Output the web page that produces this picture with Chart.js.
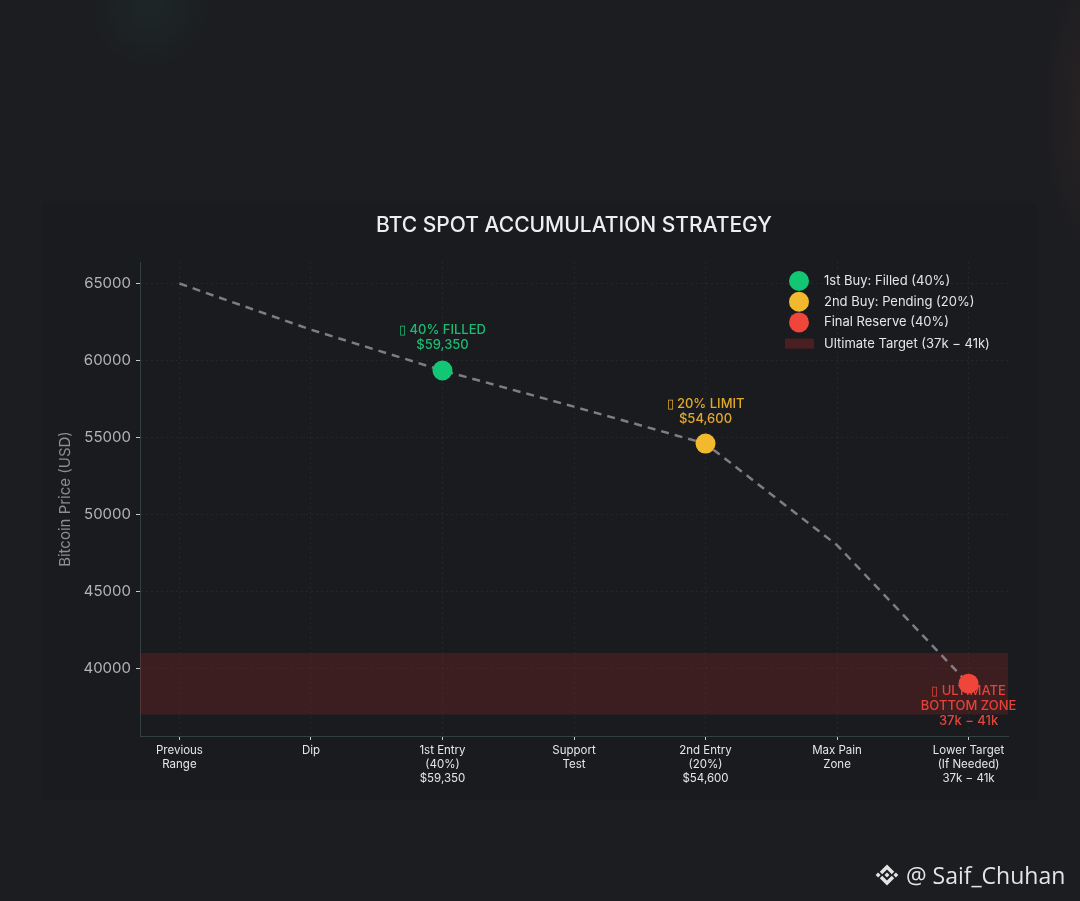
<!DOCTYPE html>
<html><head><meta charset="utf-8">
<script src="https://cdn.jsdelivr.net/npm/chart.js@4.4.1/dist/chart.umd.min.js"></script>
<style>
html,body{margin:0;padding:0;width:1080px;height:901px;overflow:hidden;background:#1c1d21;}
#bg{position:absolute;left:0;top:0;width:1080px;height:901px;
 background:radial-gradient(circle at 150px 8px, rgba(40,140,100,0.09), rgba(0,0,0,0) 60px),
            radial-gradient(ellipse 50px 150px at 1090px 110px, rgba(130,70,50,0.12), rgba(0,0,0,0) 100%);}
#panel{position:absolute;left:42px;top:203px;width:995px;height:597px;background:#1a1b1f;}
#wrap{position:absolute;left:0;top:0;width:1080px;height:901px;}
#wm{position:absolute;left:874px;top:859px;height:32px;display:flex;align-items:center;color:#e4e4e4;font:23px "Open Sans",sans-serif;white-space:nowrap;}
#wm svg{margin-right:6px;}
</style></head>
<body>
<div id="bg"></div>
<div id="panel"></div>
<div id="wrap"><canvas id="c" width="1080" height="901"></canvas></div>
<div id="wm"><svg width="26" height="26" viewBox="0 0 126 126"><g fill="#e4e4e4">
<polygon points="63,12 98,47 86,59 63,36 40,59 28,47"/>
<polygon points="63,114 98,79 86,67 63,90 40,67 28,79"/>
<polygon points="63,51 75,63 63,75 51,63"/>
<polygon points="20,51 32,63 20,75 8,63"/>
<polygon points="106,51 118,63 106,75 94,63"/>
</g></svg><span>@ Saif_Chuhan</span></div>
<script>
// ---- data ----
const chartTitle = "BTC SPOT ACCUMULATION STRATEGY";
const yAxisTitle = "Bitcoin Price (USD)";
const categories = [
  ["Previous","Range"],
  ["Dip"],
  ["1st Entry","(40%)","$59,350"],
  ["Support","Test"],
  ["2nd Entry","(20%)","$54,600"],
  ["Max Pain","Zone"],
  ["Lower Target","(If Needed)","37k \u2212 41k"]
];
const pricePath = [65000, 62000, 59350, 57000, 54600, 48000, 39000];
const entryLabels = ["1st Buy: Filled (40%)", "2nd Buy: Pending (20%)", "Final Reserve (40%)"];
const entryIndex = [2, 4, 6];
const entryPrice = [59350, 54600, 39000];
const entryColors = ["#12c774", "#f2b92f", "#f0453a"];
const annotationText = [
  ["\u25AF 40% FILLED", "$59,350"],
  ["\u25AF 20% LIMIT", "$54,600"],
  ["\u25AF ULTIMATE", "BOTTOM ZONE", "37k \u2212 41k"]
];
const annotationColors = ["#1dbb72", "#e3a92a", "#e5433a"];
const zoneLabel = "Ultimate Target (37k \u2212 41k)";
const zoneRange = [37000, 41000];
const yTicks = [40000, 45000, 50000, 55000, 60000, 65000];
const xLimits = [-0.3, 6.3];
const yLimits = [35600, 66400];

const FONT = "Inter, 'Open Sans', sans-serif";
const LINE_INDEX = 3;

const datasets = [];
entryLabels.forEach((lab, i) => {
  datasets.push({
    label: lab, type: 'line', showLine: false,
    data: [{x: entryIndex[i], y: entryPrice[i]}],
    pointRadius: 10, pointHoverRadius: 10, pointBorderWidth: 0,
    pointBackgroundColor: entryColors[i], borderColor: entryColors[i], order: 0
  });
});
datasets.push({
  label: 'path', type: 'line',
  data: pricePath.map((v, i) => ({x: i, y: v})),
  borderColor: 'rgba(150,150,155,0.8)', borderWidth: 2.5, borderDash: [8, 6],
  pointRadius: 0, fill: false, tension: 0, order: 1
});
datasets.push({
  label: zoneLabel, type: 'line',
  data: [{x: xLimits[0], y: zoneRange[1]}, {x: xLimits[1], y: zoneRange[1]}],
  borderWidth: 0, pointRadius: 0, fill: '+1',
  backgroundColor: 'rgba(150,40,40,0.28)', borderColor: 'rgba(0,0,0,0)', order: 2
});
datasets.push({
  label: 'zoneLow', type: 'line',
  data: [{x: xLimits[0], y: zoneRange[0]}, {x: xLimits[1], y: zoneRange[0]}],
  borderWidth: 0, pointRadius: 0, fill: false, borderColor: 'rgba(0,0,0,0)', order: 2
});

const decorPlugin = {
  id: 'decor',
  afterDatasetDraw(chart, args) {
    if (args.index !== LINE_INDEX) return;
    const {ctx, scales: {x, y}} = chart;
    ctx.save();
    ctx.textAlign = 'center'; ctx.textBaseline = 'middle';
    ctx.font = "500 13px " + FONT;
    annotationText.forEach((lines, i) => {
      const px = x.getPixelForValue(entryIndex[i]);
      const py = y.getPixelForValue(entryPrice[i]);
      ctx.fillStyle = annotationColors[i];
      lines.forEach((t, j) => {
        const ty = i < 2 ? py - 40 + j * 15 : py + 7 + j * 15;
        ctx.fillText(t, px, ty);
      });
    });
    ctx.restore();
  },
  afterDraw(chart) {
    const {ctx, chartArea: ca} = chart;
    ctx.save();
    // title
    ctx.fillStyle = '#eeeeee';
    ctx.textAlign = 'center'; ctx.textBaseline = 'middle';
    ctx.font = "500 21px " + FONT;
    ctx.fillText(chartTitle, (ca.left + ca.right) / 2, 226);
    // y axis title
    ctx.save();
    ctx.translate(65, (ca.top + ca.bottom) / 2);
    ctx.rotate(-Math.PI / 2);
    ctx.fillStyle = '#8e8e92';
    ctx.font = "15px " + FONT;
    ctx.fillText(yAxisTitle, 0, 0);
    ctx.restore();
    // legend
    const lx = 799, ly0 = 281, dy = 20.7;
    ctx.textAlign = 'left';
    ctx.font = "13px " + FONT;
    entryLabels.forEach((lab, i) => {
      const yy = ly0 + i * dy;
      ctx.beginPath(); ctx.arc(lx, yy, 10, 0, Math.PI * 2);
      ctx.fillStyle = entryColors[i]; ctx.fill();
      ctx.fillStyle = '#e6e6e6';
      ctx.fillText(lab, 824, yy);
    });
    const by = ly0 + 3 * dy + 0.5;
    ctx.fillStyle = 'rgba(150,40,40,0.38)';
    ctx.fillRect(785, by - 5, 29, 10);
    ctx.fillStyle = '#e6e6e6';
    ctx.fillText(zoneLabel, 824, by);
    ctx.restore();
  }
};

new Chart(document.getElementById('c'), {
  type: 'line',
  data: {datasets},
  options: {
    responsive: false, animation: false,
    layout: {padding: {top: 262, left: 40, right: 72, bottom: 95}},
    plugins: {legend: {display: false}, title: {display: false}, tooltip: {enabled: false}},
    scales: {
      x: {
        type: 'linear', min: xLimits[0], max: xLimits[1],
        afterBuildTicks: s => { s.ticks = categories.map((_, i) => ({value: i})); },
        afterFit: s => { s.height = 70; },
        ticks: {
          callback: v => categories[v], color: '#e6e6e6', padding: 4,
          maxRotation: 0, autoSkip: false,
          font: {family: FONT, size: 11.5, lineHeight: 1.2}
        },
        grid: {color: 'rgba(255,255,255,0.05)', tickColor: '#c8c8c8', tickLength: 4, tickWidth: 1},
        border: {color: '#33403f', width: 1, dash: [2, 3]}
      },
      y: {
        type: 'linear', min: yLimits[0], max: yLimits[1],
        afterBuildTicks: s => { s.ticks = yTicks.map(v => ({value: v})); },
        afterFit: s => { s.width = 100; },
        ticks: {callback: v => String(v), color: '#b4b4b8', padding: 5, font: {family: FONT, size: 15}},
        grid: {color: 'rgba(255,255,255,0.05)', tickColor: '#c8c8c8', tickLength: 4, tickWidth: 1},
        border: {color: '#33403f', width: 1, dash: [2, 3]}
      }
    }
  },
  plugins: [decorPlugin]
});
</script>
</body></html>
